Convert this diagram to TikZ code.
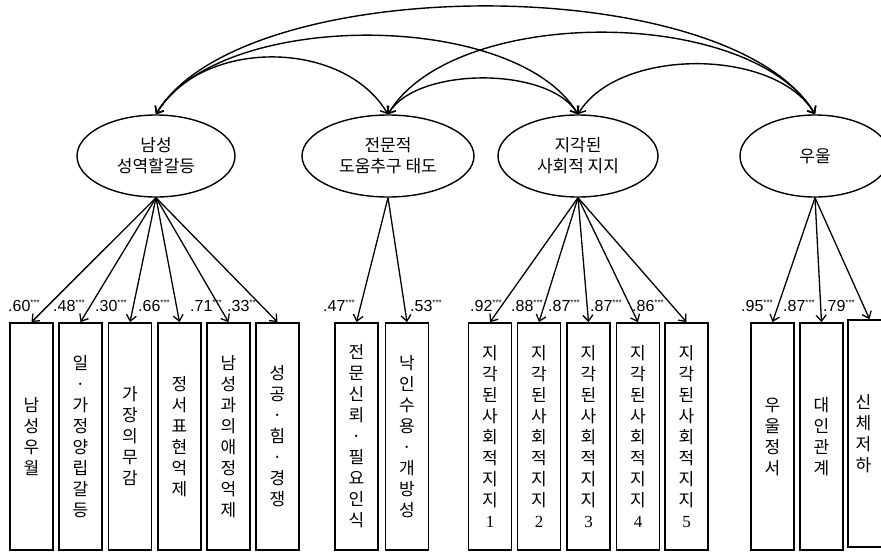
\documentclass[tikz,border=0pt]{standalone}
\usepackage{fontspec}
\setmainfont{Liberation Sans}
\newfontfamily\kr{Noto Sans CJK KR}
\newfontfamily\serifnum{Liberation Serif}
\usetikzlibrary{arrows.meta,shapes.geometric}
\newcommand{\sig}[1]{\raisebox{5.5pt}{\fontsize{8}{8}\selectfont #1}}

\begin{document}
\begin{tikzpicture}[x=1pt,y=-1pt,
  latent/.style={draw, ellipse, line width=1.4pt, inner sep=0pt, minimum height=82pt, align=center, font=\kr\fontsize{17}{21}\selectfont},
  ind/.style={draw, rectangle, line width=1.8pt, inner sep=0pt, minimum width=43pt, minimum height=227pt, align=center, font=\kr\fontsize{17}{21}\selectfont},
  lbl/.style={anchor=base west, inner sep=0pt, font=\fontsize{16}{18}\selectfont},
  load/.style={draw, line width=1.3pt, -{Straight Barb[length=6pt,width=10pt]}},
  cov/.style={draw, line width=1.4pt, {Straight Barb[length=6pt,width=10pt]}-{Straight Barb[length=6pt,width=10pt]}}]
\useasboundingbox (0,0) rectangle (881,552);
\clip (0,0) rectangle (881,552);

\node[latent, minimum width=158pt] (mrc) at (156,156) {남성\\성역할갈등};
\node[latent, minimum width=172pt] (hsa) at (388,156) {전문적\\도움추구 태도};
\node[latent, minimum width=160pt] (pss) at (578,156) {지각된\\사회적 지지};
\node[latent, minimum width=150pt] (dep) at (815,156) {우울};

\node[ind] (m1) at (31.5,436.5) {남\\성\\우\\월};
\node[ind] (m2) at (80.5,436.5) {일\\·\\가\\정\\양\\립\\갈\\등};
\node[ind] (m3) at (130,436.5) {가\\장\\의\\무\\감};
\node[ind] (m4) at (179.5,436.5) {정\\서\\표\\현\\억\\제};
\node[ind] (m5) at (228.5,436.5) {남\\성\\과\\의\\애\\정\\억\\제};
\node[ind] (m6) at (277.5,436.5) {성\\공\\·\\힘\\·\\경\\쟁};
\node[ind] (h1) at (356.5,436.5) {전\\문\\신\\뢰\\·\\필\\요\\인\\식};
\node[ind] (h2) at (407,436.5) {낙\\인\\수\\용\\·\\개\\방\\성};
\node[ind] (p1) at (490,436.5) {지\\각\\된\\사\\회\\적\\지\\지\\{\serifnum 1}};
\node[ind] (p2) at (539,436.5) {지\\각\\된\\사\\회\\적\\지\\지\\{\serifnum 2}};
\node[ind] (p3) at (588.5,436.5) {지\\각\\된\\사\\회\\적\\지\\지\\{\serifnum 3}};
\node[ind] (p4) at (638,436.5) {지\\각\\된\\사\\회\\적\\지\\지\\{\serifnum 4}};
\node[ind] (p5) at (686.5,436.5) {지\\각\\된\\사\\회\\적\\지\\지\\{\serifnum 5}};
\node[ind] (d1) at (772.5,436.5) {우\\울\\정\\서};
\node[ind] (d2) at (821.5,436.5) {대\\인\\관\\계};
\node[ind] (d3) at (869.5,433.5) {\hspace*{-12pt}신\\\hspace*{-12pt}체\\\hspace*{-12pt}저\\\hspace*{-12pt}하};

% correlations between the latent factors
\path[cov] (mrc.north) .. controls +(45,-76) and +(-45,-76) .. (hsa.north);
\path[cov] (mrc.north) .. controls +(63,-105) and +(-63,-105) .. (pss.north);
\path[cov] (mrc.north) .. controls +(86,-144) and +(-86,-144) .. (dep.north);
\path[cov] (hsa.north) .. controls +(29,-48) and +(-29,-48) .. (pss.north);
\path[cov] (hsa.north) .. controls +(65,-109) and +(-65,-109) .. (dep.north);
\path[cov] (pss.north) .. controls +(40,-67) and +(-40,-67) .. (dep.north);

% loadings
\path[load] (mrc.south) -- (m1.north);
\path[load] (mrc.south) -- (m2.north);
\path[load] (mrc.south) -- (m3.north);
\path[load] (mrc.south) -- (m4.north);
\path[load] (mrc.south) -- (m5.north);
\path[load] (mrc.south) -- (m6.north);
\path[load] (hsa.south) -- (h1.north);
\path[load] (hsa.south) -- (h2.north);
\path[load] (pss.south) -- (p1.north);
\path[load] (pss.south) -- (p2.north);
\path[load] (pss.south) -- (p3.north);
\path[load] (pss.south) -- (p4.north);
\path[load] (pss.south) -- (p5.north);
\path[load] (dep.south) -- (d1.north);
\path[load] (dep.south) -- (d2.north);
\path[load] (dep.south) -- (d3.north);

\node[lbl] (lm1) at (8,311) {.60\sig{***}};
\node[lbl] (lm2) at (53,311) {.48\sig{***}};
\node[lbl] (lm3) at (95,311) {.30\sig{***}};
\node[lbl] (lm4) at (138,311) {.66\sig{***}};
\node[lbl] (lm5) at (190,311) {.71\sig{***}};
\node[lbl] (lm6) at (227,311) {.33\sig{**}};
\node[lbl] (lh1) at (323,311) {.47\sig{***}};
\node[lbl] (lh2) at (410,311) {.53\sig{***}};
\node[lbl] (lp1) at (470,311) {.92\sig{***}};
\node[lbl] (lp2) at (511,311) {.88\sig{***}};
\node[lbl] (lp3) at (548,311) {.87\sig{***}};
\node[lbl] (lp4) at (590,311) {.87\sig{***}};
\node[lbl] (lp5) at (632,311) {.86\sig{***}};
\node[lbl] (ld1) at (741,311) {.95\sig{***}};
\node[lbl] (ld2) at (783,311) {.87\sig{***}};
\node[lbl] (ld3) at (823,311) {.79\sig{***}};
\end{tikzpicture}
\end{document}
